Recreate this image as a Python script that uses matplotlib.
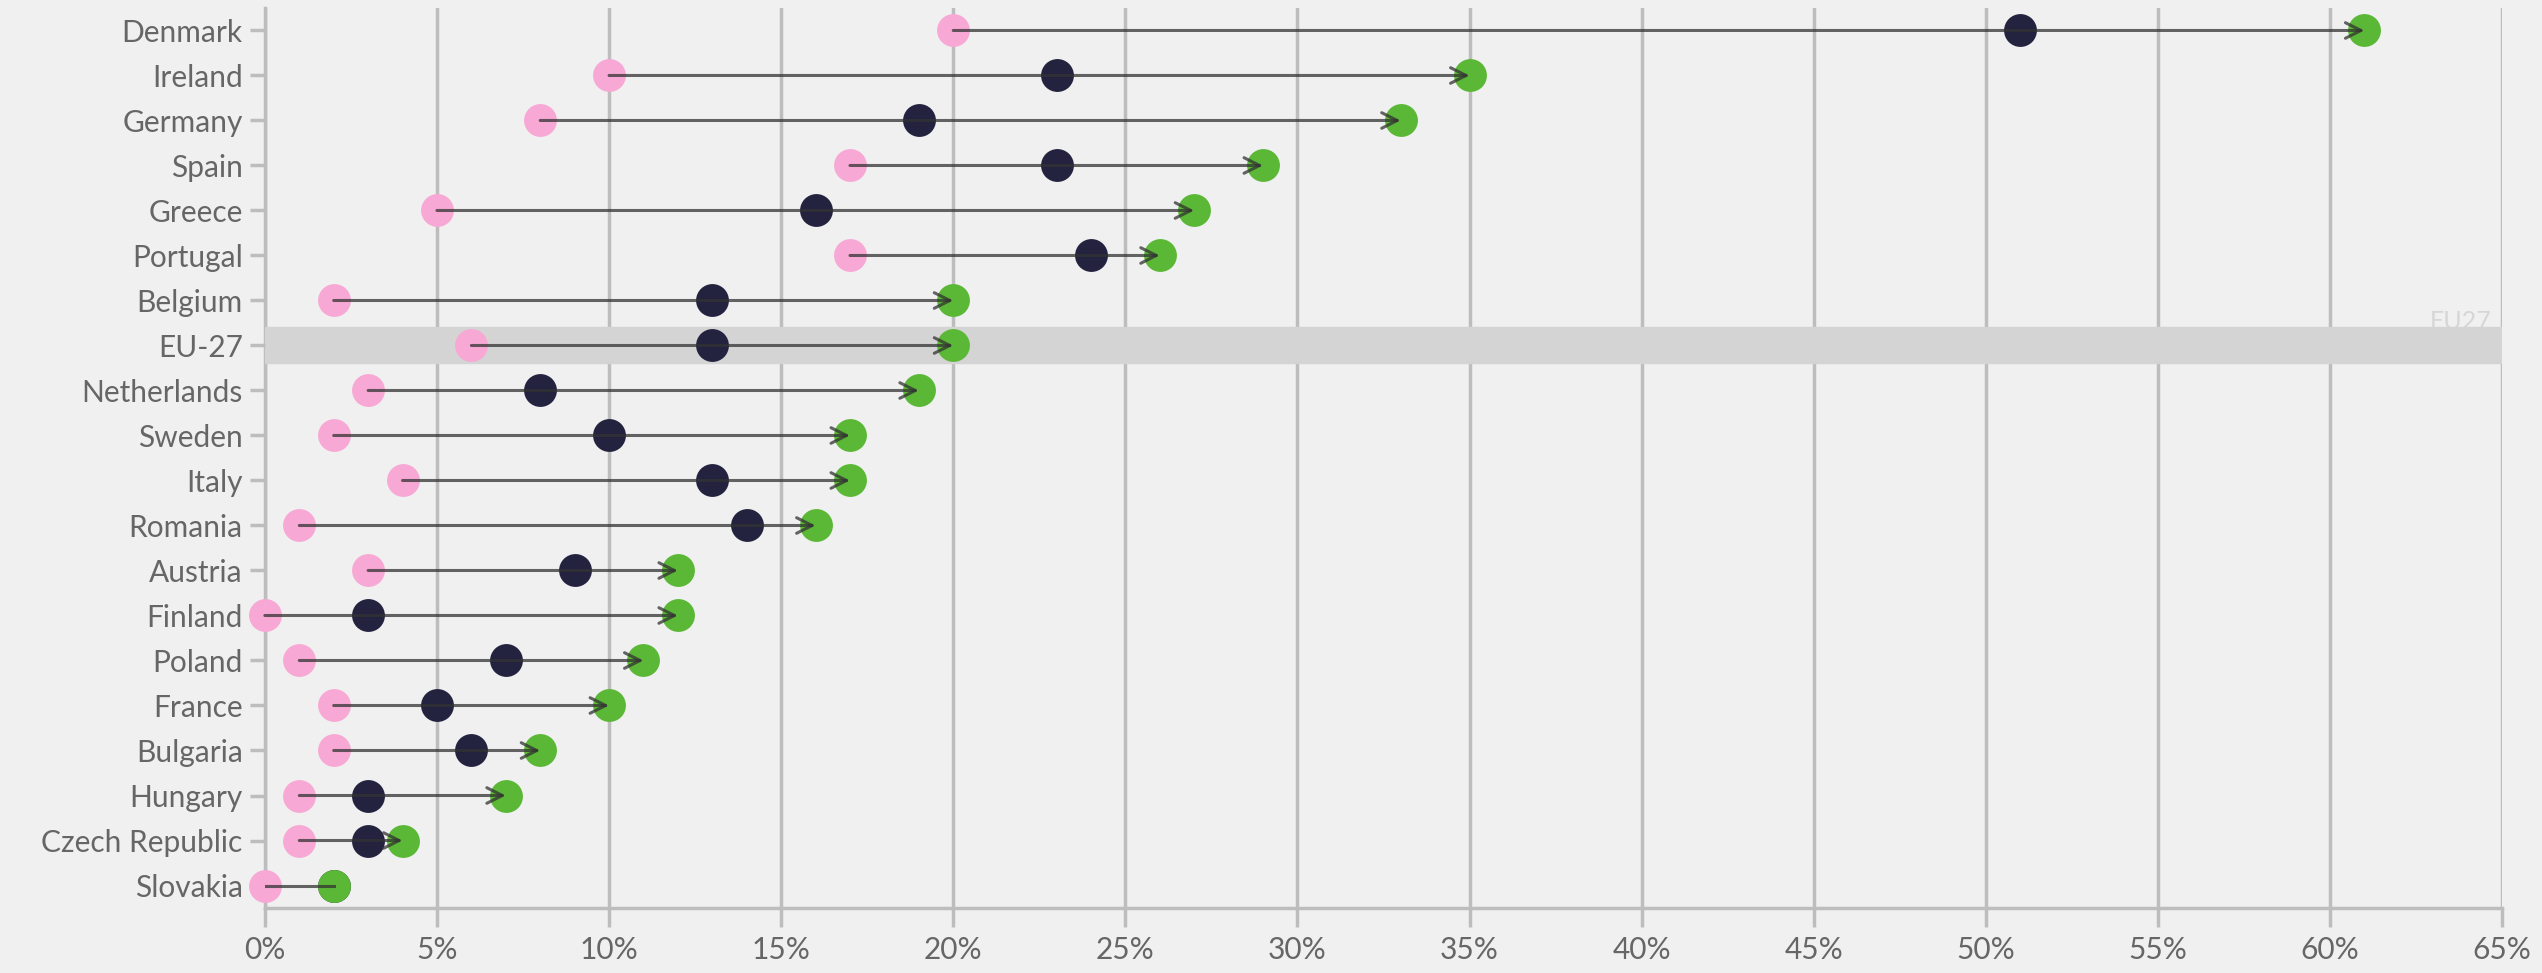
# Dumbbell chart: three values per country, arrow from first to last
import matplotlib.pyplot as plt
import matplotlib.ticker as mtick

countries = ["Denmark", "Ireland", "Germany", "Spain", "Greece", "Portugal",
             "Belgium", "EU-27", "Netherlands", "Sweden", "Italy", "Romania",
             "Austria", "Finland", "Poland", "France", "Bulgaria", "Hungary",
             "Czech Republic", "Slovakia"]
start_vals = [20, 10, 8, 17, 5, 17, 2, 6, 3, 2, 4, 1, 3, 0, 1, 2, 2, 1, 1, 0]
mid_vals = [51, 23, 19, 23, 16, 24, 13, 13, 8, 10, 13, 14, 9, 3, 7, 5, 6, 3, 3, 2]
end_vals = [61, 35, 33, 29, 27, 26, 20, 20, 19, 17, 17, 16, 12, 12, 11, 10, 8, 7, 4, 2]
highlight = "EU-27"

plt.rcParams["font.family"] = ["Lato", "DejaVu Sans"]

fig = plt.figure(figsize=(25.42, 9.73), dpi=100, facecolor="#f0f0f0")
ax = fig.add_axes([0.1042, 0.0668, 0.8801, 0.925])
ax.set_facecolor("#f0f0f0")

ys = list(range(len(countries)))

# highlight band for EU-27 (label sits partly behind the band)
hi = countries.index(highlight)
ax.text(64.7, hi - 0.28, "EU27", ha="right", va="bottom", fontsize=18,
        color="#d6d6d6", zorder=0.8)
ax.axhspan(hi - 0.4, hi + 0.4, color="#d4d4d4", zorder=1)

# grid
for x in range(0, 70, 5):
    ax.axvline(x, color="#bdbdbd", lw=2.5, zorder=0.5)

# arrows from start to end
for y, s, e in zip(ys, start_vals, end_vals):
    if e - s >= 3:
        ax.annotate("", xy=(e, y), xytext=(s, y),
                    arrowprops=dict(arrowstyle="->", color="#333333", lw=2.2,
                                    alpha=0.75, mutation_scale=28,
                                    shrinkA=0, shrinkB=0),
                    zorder=5)
    else:
        ax.plot([s, e], [y, y], color="#333333", lw=2.2, alpha=0.75, zorder=5)

ax.scatter(start_vals, ys, s=560, color="#f7a8d4", zorder=3, linewidths=0, clip_on=False)
ax.scatter(mid_vals, ys, s=560, color="#23223f", zorder=3, linewidths=0, clip_on=False)
ax.scatter(end_vals, ys, s=560, color="#5bb836", zorder=3, linewidths=0, clip_on=False)

ax.set_xlim(0, 65)
ax.set_ylim(len(countries) - 0.5, -0.5)
ax.set_yticks(ys)
ax.set_yticklabels(countries)
ax.set_xticks(range(0, 70, 5))
ax.xaxis.set_major_formatter(mtick.StrMethodFormatter("{x:.0f}%"))

for side in ["top", "right"]:
    ax.spines[side].set_visible(False)
for side in ["left", "bottom"]:
    ax.spines[side].set_color("#bdbdbd")
    ax.spines[side].set_linewidth(2.5)
    ax.spines[side].set_zorder(0.6)

ax.tick_params(axis="y", colors="#bdbdbd", labelcolor="#666666", labelsize=21.5,
               length=11, width=2.5, pad=5)
ax.tick_params(axis="x", colors="#bdbdbd", labelcolor="#666666", labelsize=21.5,
               length=14, width=2.5, pad=6)

fig.savefig("out.png", dpi=100, facecolor=fig.get_facecolor())
